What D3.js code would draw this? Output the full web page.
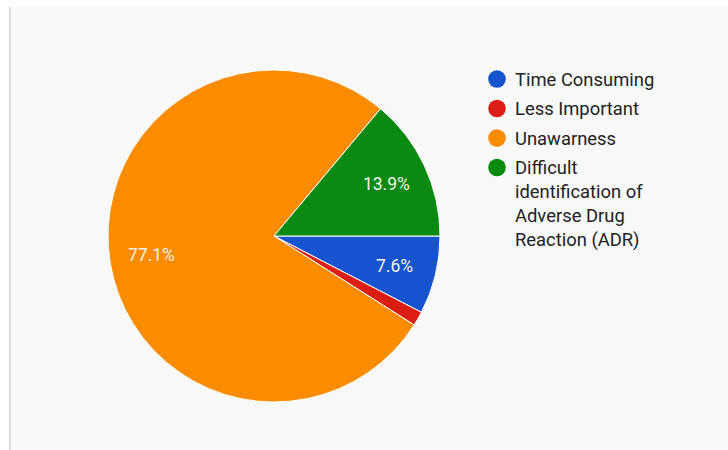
<!DOCTYPE html>
<html>
<head>
<meta charset="utf-8">
<script src="https://cdn.jsdelivr.net/npm/d3@7"></script>
<style>
html,body{margin:0;padding:0;background:#ffffff;}
svg{display:block;}
text{font-family:Roboto,"Noto Sans",sans-serif;}
</style>
</head>
<body>
<svg id="chart" width="728" height="450"></svg>
<script>
const categories = ["Time Consuming", "Less Important", "Unawarness", "Difficult identification of Adverse Drug Reaction (ADR)"];
const legendLines = [["Time Consuming"], ["Less Important"], ["Unawarness"], ["Difficult", "identification of", "Adverse Drug", "Reaction (ADR)"]];
const values = [7.6, 1.4, 77.1, 13.9];
const labels = ["7.6%", "", "77.1%", "13.9%"];
const colors = ["#1653cf", "#dc1d13", "#fb8c00", "#0a8a10"];

const svg = d3.select("#chart");
// background panel
svg.append("rect").attr("x", 11).attr("y", 7).attr("width", 717).attr("height", 443).attr("fill", "#f9f9f9");
svg.append("rect").attr("x", 9).attr("y", 7).attr("width", 2).attr("height", 443).attr("fill", "#dcdce3");

const cx = 274, cy = 236, r = 166;
const data = categories.map((c, i) => ({name: c, value: values[i], label: labels[i], color: colors[i]}));
const pie = d3.pie().value(d => d.value).sort(null).startAngle(Math.PI / 2).endAngle(Math.PI / 2 + 2 * Math.PI);
const arcs = pie(data);
const arc = d3.arc().innerRadius(0).outerRadius(r);
const labelArc = d3.arc().innerRadius(124).outerRadius(124);

const g = svg.append("g").attr("transform", `translate(${cx},${cy})`);
g.selectAll("path").data(arcs).join("path")
  .attr("d", arc)
  .attr("fill", d => d.data.color)
  .attr("stroke", "#ffffff")
  .attr("stroke-width", 1);

g.selectAll("text.lbl").data(arcs.filter(d => d.data.label)).join("text")
  .attr("class", "lbl")
  .attr("transform", d => `translate(${labelArc.centroid(d)})`)
  .attr("text-anchor", "middle")
  .attr("dy", "0.36em")
  .attr("font-size", 17.5)
  .attr("fill", "#f4f1e6")
  .text(d => d.data.label);

// legend
const legend = svg.append("g");
const rowY = [79, 108.5, 138, 167.5];
legendLines.forEach((lines, i) => {
  legend.append("circle").attr("cx", 497).attr("cy", rowY[i]).attr("r", 8.8).attr("fill", colors[i]);
  const t = legend.append("text").attr("x", 515).attr("y", rowY[i] + 6.5)
    .attr("font-size", 18.4).attr("fill", "#222222");
  lines.forEach((ln, j) => {
    t.append("tspan").attr("x", 515).attr("dy", j === 0 ? 0 : 24).text(ln);
  });
});
</script>
</body>
</html>
